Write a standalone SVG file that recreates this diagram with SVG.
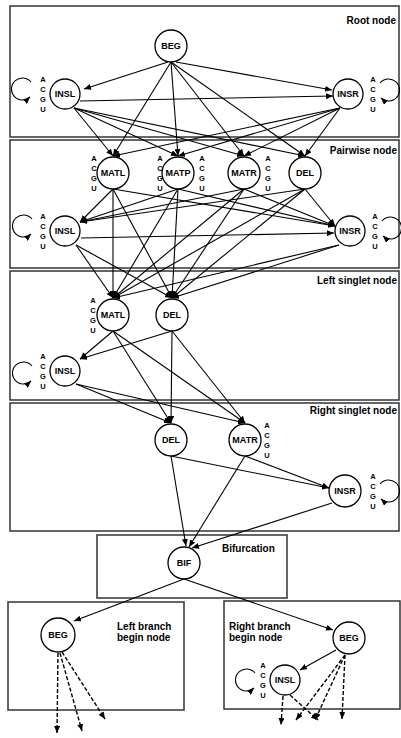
<svg xmlns="http://www.w3.org/2000/svg" width="401" height="738" viewBox="0 0 401 738">
<defs>
<marker id="ah" markerWidth="7" markerHeight="6" refX="7" refY="3" orient="auto" markerUnits="userSpaceOnUse"><path d="M0,0 L7,3 L0,6 z" fill="#000"/></marker>
<style>
.frame{fill:none;stroke:#333;stroke-width:1.5}
.e{fill:none;stroke:#000;stroke-width:1.1;marker-end:url(#ah)}
.d{fill:none;stroke:#000;stroke-width:1.4;stroke-dasharray:4,2;marker-end:url(#ah)}
.n circle{fill:#fff;stroke:#000;stroke-width:1.3}
.n text{font-family:"Liberation Sans",Arial,sans-serif;font-weight:bold;font-size:9px;text-anchor:middle}
.l{font-family:"Liberation Sans",Arial,sans-serif;font-weight:bold;font-size:7.5px;text-anchor:middle}
.h{font-family:"Liberation Sans",Arial,sans-serif;font-weight:bold;font-size:10px}
</style>
</defs>
<rect width="401" height="738" fill="#fff"/>
<g id="frames">
<rect class="frame" x="10" y="6" width="389" height="131"/>
<rect class="frame" x="10" y="140" width="389" height="128"/>
<rect class="frame" x="10" y="271" width="389" height="129"/>
<rect class="frame" x="10" y="403" width="389" height="128"/>
<rect class="frame" x="97" y="535" width="190" height="63"/>
<rect class="frame" x="8" y="602" width="176" height="108"/>
<rect class="frame" x="224" y="601" width="176" height="108"/>
</g>
<g id="labels">
<text class="h" x="396" y="24" text-anchor="end">Root node</text>
<text class="h" x="397" y="154" text-anchor="end">Pairwise node</text>
<text class="h" x="397" y="284" text-anchor="end">Left singlet node</text>
<text class="h" x="397" y="414" text-anchor="end">Right singlet node</text>
<text class="h" x="222" y="552">Bifurcation</text>
<text class="h" x="117" y="630">Left branch</text>
<text class="h" x="117" y="641">begin node</text>
<text class="h" x="229" y="630">Right branch</text>
<text class="h" x="229" y="641">begin node</text>
</g>
<g id="connectors">
<!-- root -->
<line class="e" x1="168" y1="62" x2="84" y2="89"/>
<line class="e" x1="176" y1="62" x2="332" y2="90"/>
<line class="e" x1="80" y1="101" x2="333" y2="96"/>
<line class="e" x1="171" y1="62" x2="113" y2="156"/>
<line class="e" x1="171" y1="62" x2="178" y2="156"/>
<line class="e" x1="171" y1="62" x2="244" y2="156"/>
<line class="e" x1="171" y1="62" x2="305" y2="156"/>
<line class="e" x1="74" y1="108" x2="113" y2="156"/>
<line class="e" x1="74" y1="108" x2="178" y2="156"/>
<line class="e" x1="74" y1="108" x2="244" y2="156"/>
<line class="e" x1="74" y1="108" x2="305" y2="156"/>
<line class="e" x1="340" y1="108" x2="113" y2="156"/>
<line class="e" x1="340" y1="108" x2="178" y2="156"/>
<line class="e" x1="340" y1="108" x2="244" y2="156"/>
<line class="e" x1="340" y1="108" x2="305" y2="156"/>
<path class="e" d="M31,82 A11,11 0 1 0 30,97"/>
<path class="e" d="M380,83 A11,11 0 1 1 381,98"/>
<!-- pairwise -->
<line class="e" x1="113" y1="189" x2="80" y2="222"/>
<line class="e" x1="178" y1="189" x2="80" y2="222"/>
<line class="e" x1="244" y1="189" x2="80" y2="222"/>
<line class="e" x1="305" y1="189" x2="80" y2="222"/>
<line class="e" x1="113" y1="189" x2="335" y2="226"/>
<line class="e" x1="178" y1="189" x2="335" y2="226"/>
<line class="e" x1="244" y1="189" x2="335" y2="226"/>
<line class="e" x1="305" y1="189" x2="335" y2="226"/>
<line class="e" x1="81" y1="238" x2="334" y2="233"/>
<line class="e" x1="113" y1="189" x2="113" y2="298"/>
<line class="e" x1="178" y1="189" x2="113" y2="298"/>
<line class="e" x1="244" y1="189" x2="113" y2="298"/>
<line class="e" x1="305" y1="189" x2="113" y2="298"/>
<line class="e" x1="113" y1="189" x2="172" y2="298"/>
<line class="e" x1="178" y1="189" x2="172" y2="298"/>
<line class="e" x1="244" y1="189" x2="172" y2="298"/>
<line class="e" x1="305" y1="189" x2="172" y2="298"/>
<line class="e" x1="76" y1="245" x2="113" y2="298"/>
<line class="e" x1="76" y1="245" x2="172" y2="298"/>
<line class="e" x1="339" y1="245" x2="113" y2="298"/>
<line class="e" x1="339" y1="245" x2="172" y2="298"/>
<path class="e" d="M32,219 A11,11 0 1 0 31,234"/>
<path class="e" d="M382,221 A11,11 0 1 1 383,236"/>
<!-- left singlet -->
<line class="e" x1="113" y1="331" x2="80" y2="359"/>
<line class="e" x1="172" y1="331" x2="80" y2="359"/>
<line class="e" x1="113" y1="331" x2="171" y2="423"/>
<line class="e" x1="113" y1="331" x2="245" y2="423"/>
<line class="e" x1="172" y1="331" x2="171" y2="423"/>
<line class="e" x1="172" y1="331" x2="245" y2="423"/>
<line class="e" x1="76" y1="384" x2="171" y2="423"/>
<line class="e" x1="76" y1="384" x2="245" y2="423"/>
<path class="e" d="M32,366 A11,11 0 1 0 31,381"/>
<!-- right singlet -->
<line class="e" x1="171" y1="456" x2="329" y2="488"/>
<line class="e" x1="245" y1="456" x2="329" y2="488"/>
<line class="e" x1="171" y1="456" x2="186" y2="546"/>
<line class="e" x1="245" y1="456" x2="189" y2="547"/>
<line class="e" x1="332" y1="503" x2="192" y2="548"/>
<path class="e" d="M380,484 A11,11 0 1 1 381,499"/>
<!-- bifurcation -->
<line class="e" x1="184" y1="579" x2="74" y2="621"/>
<line class="e" x1="184" y1="579" x2="333" y2="630"/>
<!-- right branch -->
<line class="e" x1="336" y1="650" x2="300" y2="670"/>
<path class="e" d="M255,673 A11,11 0 1 0 254,688"/>
<line class="d" x1="345" y1="655" x2="296" y2="720"/>
<line class="d" x1="345" y1="655" x2="315" y2="720"/>
<line class="d" x1="345" y1="655" x2="342" y2="719"/>
<line class="d" x1="283" y1="696" x2="281" y2="725"/>
<line class="d" x1="290" y1="695" x2="318" y2="720"/>
<!-- left branch -->
<line class="d" x1="58" y1="653" x2="57" y2="733"/>
<line class="d" x1="60" y1="653" x2="82" y2="731"/>
<line class="d" x1="62" y1="652" x2="105" y2="719"/>
</g>
<g id="n-root-beg" class="n"><circle cx="171" cy="46" r="16"/><text x="171" y="49">BEG</text></g>
<g id="n-root-insl" class="n"><circle cx="65" cy="94" r="15"/><text x="65" y="97">INSL</text></g>
<g id="n-root-insr" class="n"><circle cx="348" cy="94" r="15"/><text x="348" y="97">INSR</text></g>
<g id="n-p-matl" class="n"><circle cx="113" cy="173" r="16"/><text x="113" y="176">MATL</text></g>
<g id="n-p-matp" class="n"><circle cx="178" cy="173" r="16"/><text x="178" y="176">MATP</text></g>
<g id="n-p-matr" class="n"><circle cx="244" cy="173" r="16"/><text x="244" y="176">MATR</text></g>
<g id="n-p-del" class="n"><circle cx="305" cy="173" r="16"/><text x="305" y="176">DEL</text></g>
<g id="n-p-insl" class="n"><circle cx="65" cy="231" r="15"/><text x="65" y="234">INSL</text></g>
<g id="n-p-insr" class="n"><circle cx="350" cy="231" r="15"/><text x="350" y="234">INSR</text></g>
<g id="n-l-matl" class="n"><circle cx="113" cy="315" r="16"/><text x="113" y="318">MATL</text></g>
<g id="n-l-del" class="n"><circle cx="172" cy="315" r="16"/><text x="172" y="318">DEL</text></g>
<g id="n-l-insl" class="n"><circle cx="65" cy="371" r="15"/><text x="65" y="374">INSL</text></g>
<g id="n-r-del" class="n"><circle cx="171" cy="440" r="16"/><text x="171" y="443">DEL</text></g>
<g id="n-r-matr" class="n"><circle cx="245" cy="440" r="16"/><text x="245" y="443">MATR</text></g>
<g id="n-r-insr" class="n"><circle cx="345" cy="491" r="16"/><text x="345" y="494">INSR</text></g>
<g id="n-bif" class="n"><circle cx="184" cy="563" r="16"/><text x="184" y="566">BIF</text></g>
<g id="n-lb-beg" class="n"><circle cx="58" cy="635" r="17"/><text x="58" y="638">BEG</text></g>
<g id="n-rb-beg" class="n"><circle cx="349" cy="638" r="16"/><text x="349" y="641">BEG</text></g>
<g id="n-rb-insl" class="n"><circle cx="285" cy="680" r="15"/><text x="285" y="683">INSL</text></g>
<g id="emissions">
<g class="l"><text x="43" y="81.5">A</text><text x="43" y="91.5">C</text><text x="43" y="101.5">G</text><text x="43" y="111.5">U</text></g>
<g class="l"><text x="373" y="81.5">A</text><text x="373" y="91.5">C</text><text x="373" y="101.5">G</text><text x="373" y="111.5">U</text></g>
<g class="l"><text x="94" y="160.5">A</text><text x="94" y="170.5">C</text><text x="94" y="180.5">G</text><text x="94" y="190.5">U</text></g>
<g class="l"><text x="160" y="160.5">A</text><text x="160" y="170.5">C</text><text x="160" y="180.5">G</text><text x="160" y="190.5">U</text></g>
<g class="l"><text x="202" y="160.5">A</text><text x="202" y="170.5">C</text><text x="202" y="180.5">G</text><text x="202" y="190.5">U</text></g>
<g class="l"><text x="268" y="160.5">A</text><text x="268" y="170.5">C</text><text x="268" y="180.5">G</text><text x="268" y="190.5">U</text></g>
<g class="l"><text x="43" y="218.5">A</text><text x="43" y="228.5">C</text><text x="43" y="238.5">G</text><text x="43" y="248.5">U</text></g>
<g class="l"><text x="375" y="218.5">A</text><text x="375" y="228.5">C</text><text x="375" y="238.5">G</text><text x="375" y="248.5">U</text></g>
<g class="l"><text x="93" y="302.5">A</text><text x="93" y="312.5">C</text><text x="93" y="322.5">G</text><text x="93" y="332.5">U</text></g>
<g class="l"><text x="43" y="358.5">A</text><text x="43" y="368.5">C</text><text x="43" y="378.5">G</text><text x="43" y="388.5">U</text></g>
<g class="l"><text x="267" y="427.5">A</text><text x="267" y="437.5">C</text><text x="267" y="447.5">G</text><text x="267" y="457.5">U</text></g>
<g class="l"><text x="373" y="478.5">A</text><text x="373" y="488.5">C</text><text x="373" y="498.5">G</text><text x="373" y="508.5">U</text></g>
<g class="l"><text x="263" y="667.5">A</text><text x="263" y="677.5">C</text><text x="263" y="687.5">G</text><text x="263" y="697.5">U</text></g>
</g>
</svg>
